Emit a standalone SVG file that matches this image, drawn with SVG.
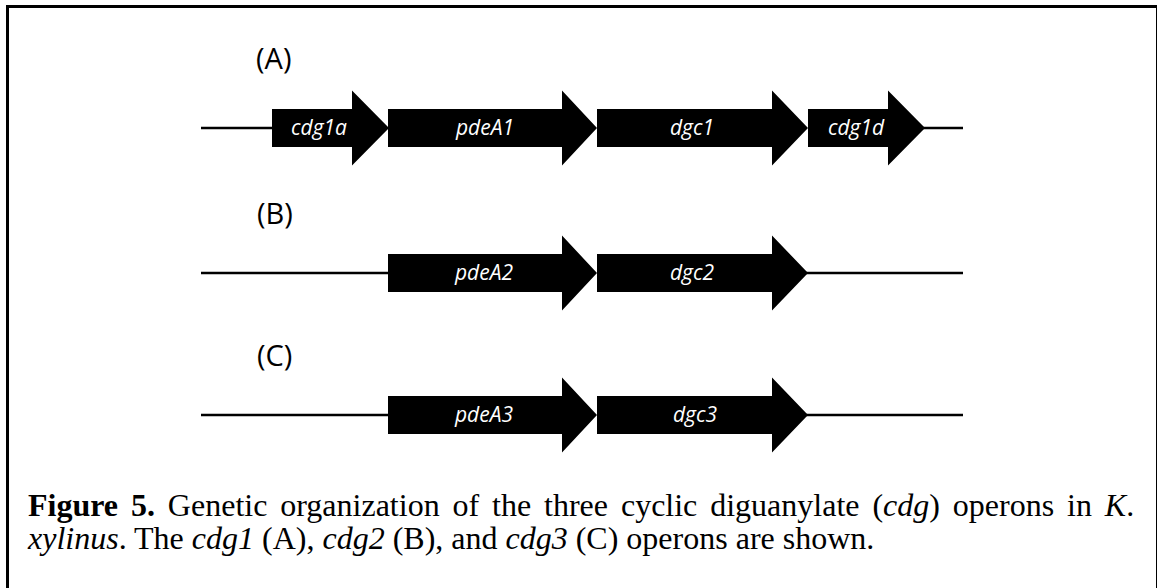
<svg xmlns="http://www.w3.org/2000/svg" width="1157" height="588" viewBox="0 0 1157 588">
<style>
.gene{fill:#000;}
.glabel{font-family:"Open Sans","Liberation Sans",sans-serif;font-style:italic;font-size:21px;fill:#fff;text-anchor:middle;}
.plabel{font-family:"Open Sans","Liberation Sans",sans-serif;font-size:29px;fill:#000;}
.dna{stroke:#000;stroke-width:2.5;fill:none;}
.cap{font-family:"Liberation Serif","Times New Roman",serif;font-size:32px;fill:#000;}
</style>
<rect x="7.5" y="6.5" width="1150" height="600" fill="#fff" stroke="#000" stroke-width="3"/>
<g id="labels">
<text class="plabel" x="256" y="69">(A)</text>
<text class="plabel" x="257" y="224">(B)</text>
<text class="plabel" x="257" y="366">(C)</text>
</g>
<g id="connectors">
<line class="dna" x1="201" y1="128" x2="274" y2="128"/>
<line class="dna" x1="923" y1="128" x2="963" y2="128"/>
<line class="dna" x1="201" y1="273" x2="390" y2="273"/>
<line class="dna" x1="806" y1="273" x2="963" y2="273"/>
<line class="dna" x1="201" y1="415" x2="390" y2="415"/>
<line class="dna" x1="806" y1="415" x2="963" y2="415"/>
</g>
<g id="cdg1a"><polygon class="gene" points="272,109 352,109 352,90.5 389,128 352,165.5 352,147 272,147"/><text class="glabel" x="319" y="135">cdg1a</text></g>
<g id="pdeA1"><polygon class="gene" points="388,109 562,109 562,90.5 597,128 562,165.5 562,147 388,147"/><text class="glabel" x="485" y="135">pdeA1</text></g>
<g id="dgc1"><polygon class="gene" points="597,109 772,109 772,90.5 808,128 772,165.5 772,147 597,147"/><text class="glabel" x="692" y="135">dgc1</text></g>
<g id="cdg1d"><polygon class="gene" points="808,109 888,109 888,90.5 925,128 888,165.5 888,147 808,147"/><text class="glabel" x="856" y="135">cdg1d</text></g>
<g id="pdeA2"><polygon class="gene" points="388,254 562,254 562,235.5 597,273 562,310.5 562,292 388,292"/><text class="glabel" x="484" y="280">pdeA2</text></g>
<g id="dgc2"><polygon class="gene" points="597,254 772,254 772,235.5 808,273 772,310.5 772,292 597,292"/><text class="glabel" x="692" y="280">dgc2</text></g>
<g id="pdeA3"><polygon class="gene" points="388,396 562,396 562,377.5 597,415 562,452.5 562,434 388,434"/><text class="glabel" x="484" y="422">pdeA3</text></g>
<g id="dgc3"><polygon class="gene" points="597,396 772,396 772,377.5 808,415 772,452.5 772,434 597,434"/><text class="glabel" x="695" y="422">dgc3</text></g>
<g id="caption">
<text class="cap" x="28" y="516" word-spacing="4.9"><tspan font-weight="bold">Figure 5.</tspan> Genetic organization of the three cyclic diguanylate (<tspan font-style="italic">cdg</tspan>) operons in <tspan font-style="italic">K</tspan>.</text>
<text class="cap" x="28" y="549"><tspan font-style="italic">xylinus</tspan>. The <tspan font-style="italic">cdg1</tspan> (A), <tspan font-style="italic">cdg2</tspan> (B), and <tspan font-style="italic">cdg3</tspan> (C) operons are shown.</text>
</g>
</svg>
